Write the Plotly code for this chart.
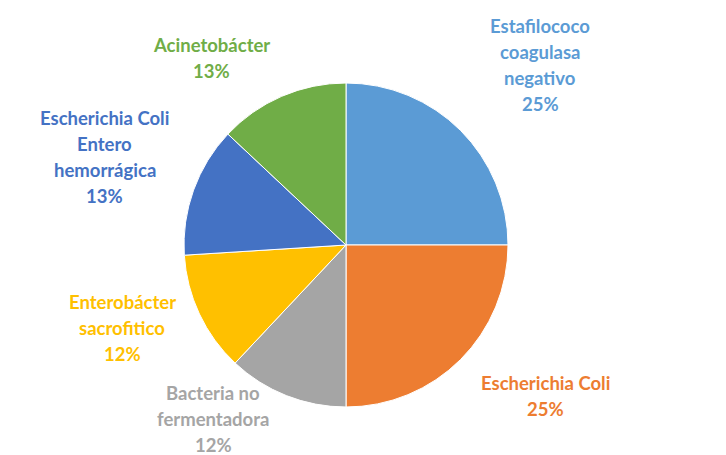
import plotly.graph_objects as go

categories = ["Estafilococo coagulasa negativo", "Escherichia Coli",
              "Bacteria no fermentadora", "Enterobácter sacrofitico",
              "Escherichia Coli Entero hemorrágica", "Acinetobácter"]
label_lines = [["Estafilococo", "coagulasa", "negativo"],
               ["Escherichia Coli"],
               ["Bacteria no", "fermentadora"],
               ["Enterobácter", "sacrofitico"],
               ["Escherichia Coli", "Entero", "hemorrágica"],
               ["Acinetobácter"]]
values = [25, 25, 12, 12, 13, 13]
colors = ["#5B9BD5", "#ED7D31", "#A5A5A5", "#FFC000", "#4472C4", "#70AD47"]
text_colors = ["#5B9BD5", "#ED7D31", "#A5A5A5", "#FFC000", "#4472C4", "#70AD47"]

# page offset of the plot div inside the browser (default body margin)
OFF = 8
# label block centres in screen pixels (x, y from top)
label_pos = [(540, 65), (545, 396), (213, 419), (122, 328), (105, 157), (211, 58)]

W, H = 726, 455
fig = go.Figure(go.Pie(
    labels=categories, values=values, sort=False, direction="clockwise",
    rotation=0, marker=dict(colors=colors, line=dict(color="white", width=1)),
    textinfo="none", hoverinfo="label+percent", showlegend=False,
    domain=dict(x=[(184 - OFF) / W, (508 - OFF) / W],
                y=[1 - (408 - OFF) / H, 1 - (82 - OFF) / H]),
))

total = sum(values)
annotations = []
for lines, v, col, (cx, cy) in zip(label_lines, values, text_colors, label_pos):
    all_lines = lines + [f"{round(100 * v / total)}%"]
    n = len(all_lines)
    for i, t in enumerate(all_lines):
        dy = (i - (n - 1) / 2) * 26
        annotations.append(dict(
            x=(cx - OFF) / W, y=1 - (cy + dy - OFF) / H, xref="paper", yref="paper",
            text=f"<b>{t}</b>", showarrow=False, xanchor="center", yanchor="middle",
            font=dict(family="Lato", size=18.5, color=col),
        ))

fig.update_layout(width=W, height=H, margin=dict(l=0, r=0, t=0, b=0),
                  paper_bgcolor="white", plot_bgcolor="white",
                  annotations=annotations)
fig.write_html("out.html")
